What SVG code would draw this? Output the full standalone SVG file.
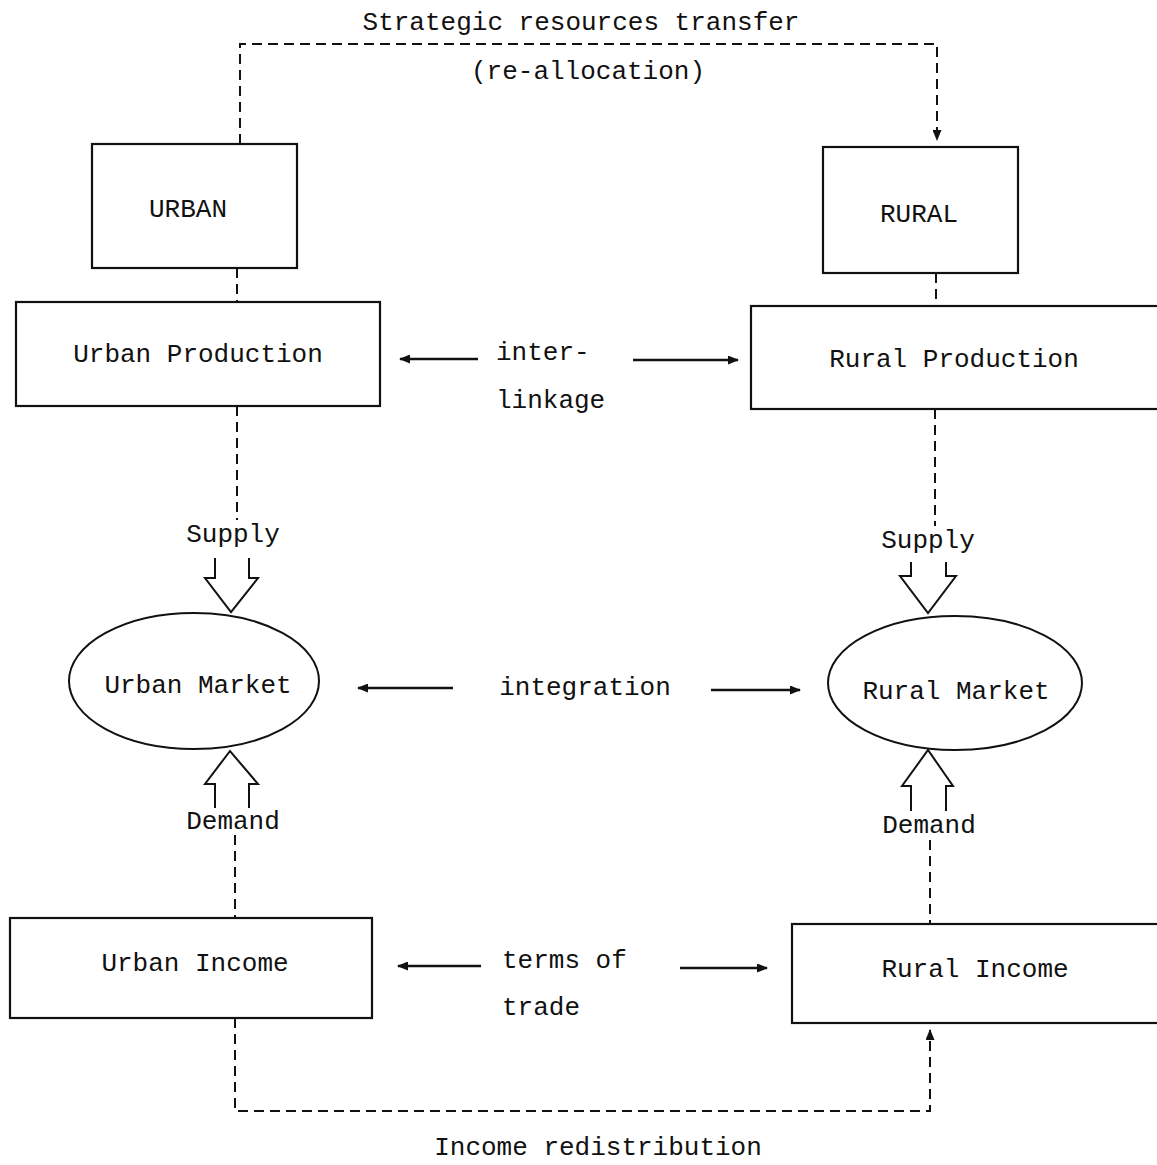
<svg xmlns="http://www.w3.org/2000/svg" width="1157" height="1165" viewBox="0 0 1157 1165">
<style>
text{font-family:"Liberation Mono","DejaVu Sans Mono",monospace;font-size:26px;fill:#111}
.c{text-anchor:middle}
.box{fill:none;stroke:#111;stroke-width:2.2}
.ell{fill:none;stroke:#111;stroke-width:2}
.dash{fill:none;stroke:#111;stroke-width:2;stroke-dasharray:10 6}
.arr{fill:none;stroke:#111;stroke-width:2.4}
.hollow{fill:none;stroke:#111;stroke-width:2}
</style>
<defs>
<marker id="ah" markerWidth="11" markerHeight="9" refX="10" refY="4.5" orient="auto" markerUnits="userSpaceOnUse">
<path d="M0,0 L11,4.5 L0,9 z" fill="#111"/>
</marker>
</defs>

<g id="title">
<text class="c" x="581" y="30">Strategic resources transfer</text>
<text class="c" x="588" y="79">(re-allocation)</text>
</g>

<g id="urban">
<rect class="box" x="92" y="144" width="205" height="124"/>
<text class="c" x="188" y="217">URBAN</text>
</g>
<g id="rural">
<rect class="box" x="823" y="147" width="195" height="126"/>
<text class="c" x="919" y="222">RURAL</text>
</g>

<g id="urban-production">
<rect class="box" x="16" y="302" width="364" height="104"/>
<text class="c" x="198" y="362">Urban Production</text>
</g>
<g id="rural-production">
<rect class="box" x="751" y="306" width="410" height="103"/>
<text class="c" x="954" y="367">Rural Production</text>
</g>

<g id="urban-market">
<ellipse class="ell" cx="194" cy="681" rx="125" ry="68"/>
<text class="c" x="198" y="693">Urban Market</text>
</g>
<g id="rural-market">
<ellipse class="ell" cx="955" cy="683" rx="127" ry="67"/>
<text class="c" x="956" y="699">Rural Market</text>
</g>

<g id="urban-income">
<rect class="box" x="10" y="918" width="362" height="100"/>
<text class="c" x="195" y="971">Urban Income</text>
</g>
<g id="rural-income">
<rect class="box" x="792" y="924" width="370" height="99"/>
<text class="c" x="975" y="977">Rural Income</text>
</g>

<g id="labels">
<text x="496" y="360">inter-</text>
<text x="496" y="408">linkage</text>
<text class="c" x="233" y="542">Supply</text>
<text class="c" x="928" y="548">Supply</text>
<text class="c" x="585" y="695">integration</text>
<text class="c" x="233" y="829">Demand</text>
<text class="c" x="929" y="833">Demand</text>
<text x="502" y="968">terms of</text>
<text x="502" y="1015">trade</text>
<text class="c" x="598" y="1155">Income redistribution</text>
</g>

<g id="connectors">
<path class="dash" d="M240,144 V44 H937 V140" marker-end="url(#ah)"/>
<path class="dash" d="M237,268 V302"/>
<path class="dash" d="M936,273 V306"/>
<path class="dash" d="M237,406 V520"/>
<path class="dash" d="M935,409 V526"/>
<path class="dash" d="M235,835 V918"/>
<path class="dash" d="M930,840 V924"/>
<path class="dash" d="M235,1018 V1111 H930 V1030" marker-end="url(#ah)"/>

<path class="arr" d="M478,359 H400" marker-end="url(#ah)"/>
<path class="arr" d="M633,360 H738" marker-end="url(#ah)"/>
<path class="arr" d="M453,688 H358" marker-end="url(#ah)"/>
<path class="arr" d="M711,690 H800" marker-end="url(#ah)"/>
<path class="arr" d="M481,966 H398" marker-end="url(#ah)"/>
<path class="arr" d="M680,968 H767" marker-end="url(#ah)"/>

<path class="hollow" d="M215,558 V578 H205 L231,612 L258,578 H249 V558"/>
<path class="hollow" d="M911,562 V576 H900 L928,613 L956,576 H946 V562"/>
<path class="hollow" d="M215,808 V784 H205 L230,751 L258,784 H249 V808"/>
<path class="hollow" d="M911,811 V786 H902 L928,750 L953,786 H946 V811"/>
</g>
</svg>
